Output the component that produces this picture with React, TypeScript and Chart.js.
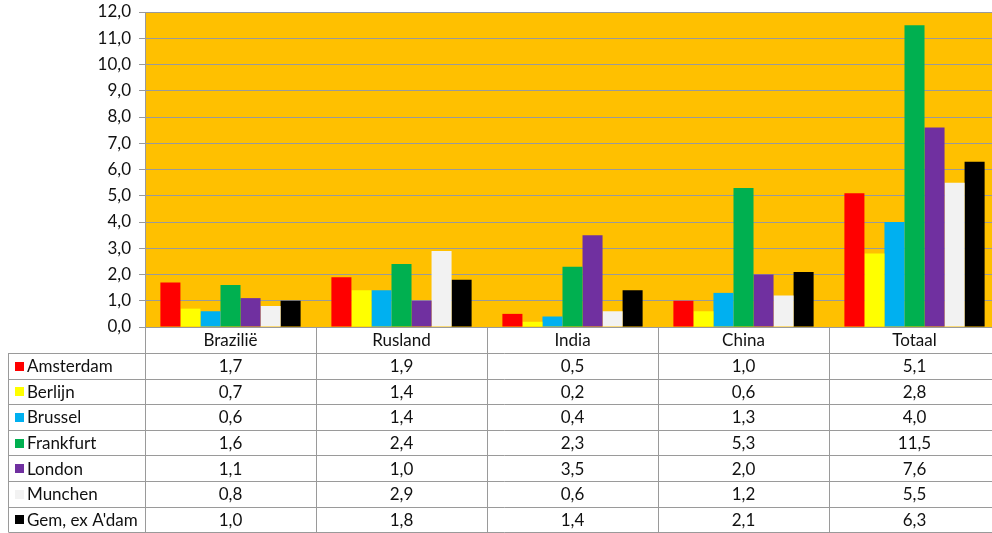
import React, { useEffect, useRef } from 'react';
import { Chart, registerables } from 'chart.js';

Chart.register(...registerables);

// Regions (columns) and the per-city series
const categories = ['Brazilië', 'Rusland', 'India', 'China', 'Totaal'];
const amsterdam = [1.7, 1.9, 0.5, 1.0, 5.1];
const berlijn = [0.7, 1.4, 0.2, 0.6, 2.8];
const brussel = [0.6, 1.4, 0.4, 1.3, 4.0];
const frankfurt = [1.6, 2.4, 2.3, 5.3, 11.5];
const london = [1.1, 1.0, 3.5, 2.0, 7.6];
const munchen = [0.8, 2.9, 0.6, 1.2, 5.5];
const gemExAdam = [1.0, 1.8, 1.4, 2.1, 6.3];

const seriesNames = ['Amsterdam', 'Berlijn', 'Brussel', 'Frankfurt', 'London', 'Munchen', "Gem, ex A'dam"];
const seriesValues = [amsterdam, berlijn, brussel, frankfurt, london, munchen, gemExAdam];
const seriesColors = ['#FF0000', '#FFFF00', '#00B0F0', '#00B050', '#7030A0', '#F2F2F2', '#000000'];

const yMin = 0;
const yMax = 12;
const yStep = 1;

const FONT_FAMILY = 'Lato, sans-serif';
const FONT_SIZE = 17;
const TEXT_COLOR = '#111111';
const LINE_COLOR = '#9a9a9a';
const PLOT_BG = '#FFC000';

const fmt = (v: number) => v.toFixed(1).replace('.', ',');

// Orange plot area behind the bars
const plotBackground = {
  id: 'plotBackground',
  beforeDraw(chart: any) {
    const { ctx, chartArea } = chart;
    ctx.save();
    ctx.fillStyle = PLOT_BG;
    ctx.fillRect(chartArea.left, chartArea.top, chartArea.right - chartArea.left, chartArea.bottom - chartArea.top);
    ctx.restore();
  },
};

// Data table under the x axis, aligned to the category bands
const dataTable = {
  id: 'dataTable',
  afterDraw(chart: any) {
    const { ctx, chartArea, scales } = chart;
    const x = scales.x;
    const top = chartArea.bottom;
    const headerH = 26;
    const rowH = 25.6;
    const legendLeft = 8.5;
    const n = categories.length;
    const colW = (chartArea.right - chartArea.left) / n;
    const bottom = top + headerH + seriesNames.length * rowH;

    ctx.save();
    ctx.strokeStyle = LINE_COLOR;
    ctx.lineWidth = 1;

    // horizontal rules
    for (let i = 0; i <= seriesNames.length; i++) {
      const y = Math.round(top + headerH + i * rowH) + 0.5;
      ctx.beginPath();
      ctx.moveTo(legendLeft, y);
      ctx.lineTo(chartArea.right, y);
      ctx.stroke();
    }
    // vertical rules
    for (let i = 0; i <= n; i++) {
      const xx = Math.round(chartArea.left + i * colW) + 0.5;
      ctx.beginPath();
      ctx.moveTo(xx, top);
      ctx.lineTo(xx, bottom);
      ctx.stroke();
    }
    ctx.beginPath();
    ctx.moveTo(legendLeft, top + headerH);
    ctx.lineTo(legendLeft, bottom);
    ctx.stroke();

    ctx.fillStyle = TEXT_COLOR;
    ctx.font = `${FONT_SIZE}px ${FONT_FAMILY}`;
    ctx.textBaseline = 'middle';

    // header
    ctx.textAlign = 'center';
    categories.forEach((c, i) => {
      ctx.fillText(c, x.getPixelForValue(i), top + headerH / 2 + 1);
    });

    // rows
    seriesNames.forEach((name, r) => {
      const cy = top + headerH + r * rowH + rowH / 2 + 1;
      ctx.fillStyle = seriesColors[r];
      ctx.fillRect(15, Math.round(cy - 5), 9, 9);
      ctx.fillStyle = TEXT_COLOR;
      ctx.textAlign = 'left';
      ctx.fillText(name, 27, cy);
      ctx.textAlign = 'center';
      seriesValues[r].forEach((v, i) => {
        ctx.fillText(fmt(v), x.getPixelForValue(i), cy);
      });
    });
    ctx.restore();
  },
};

export default function App() {
  const canvasRef = useRef<HTMLCanvasElement | null>(null);

  useEffect(() => {
    const canvas = canvasRef.current;
    if (!canvas) return;
    const chart = new Chart(canvas, {
      type: 'bar',
      data: {
        labels: categories,
        datasets: seriesNames.map((name, i) => ({
          label: name,
          data: seriesValues[i],
          backgroundColor: seriesColors[i],
          borderWidth: 0,
          categoryPercentage: 0.82,
          barPercentage: 1,
        })),
      },
      options: {
        responsive: false,
        animation: false,
        devicePixelRatio: 1,
        layout: { padding: { left: 0, top: 12, right: 0, bottom: 206 } },
        plugins: {
          legend: { display: false },
          tooltip: { enabled: false },
        },
        scales: {
          x: {
            grid: { display: false },
            ticks: { display: false },
            border: { display: true, color: LINE_COLOR, width: 1 },
            afterFit(scale: any) {
              scale.height = 0;
            },
          },
          y: {
            min: yMin,
            max: yMax,
            grid: { color: LINE_COLOR, lineWidth: 1, tickLength: 6, drawTicks: true },
            border: { display: true, color: LINE_COLOR, width: 1 },
            ticks: {
              stepSize: yStep,
              padding: 8,
              color: TEXT_COLOR,
              font: { family: FONT_FAMILY, size: FONT_SIZE },
              callback: (v: any) => fmt(Number(v)),
            },
            afterFit(scale: any) {
              scale.width = 145;
              scale.paddingTop = 0;
              scale.paddingBottom = 0;
            },
          },
        },
      },
      plugins: [plotBackground, dataTable],
    });
    return () => chart.destroy();
  }, []);

  return (
    <div style={{ position: 'fixed', left: 0, top: 0, width: 992, height: 533, overflow: 'hidden', background: '#fff' }}>
      <canvas ref={canvasRef} width={1000} height={533} style={{ width: 1000, height: 533, display: 'block' }} />
    </div>
  );
}
